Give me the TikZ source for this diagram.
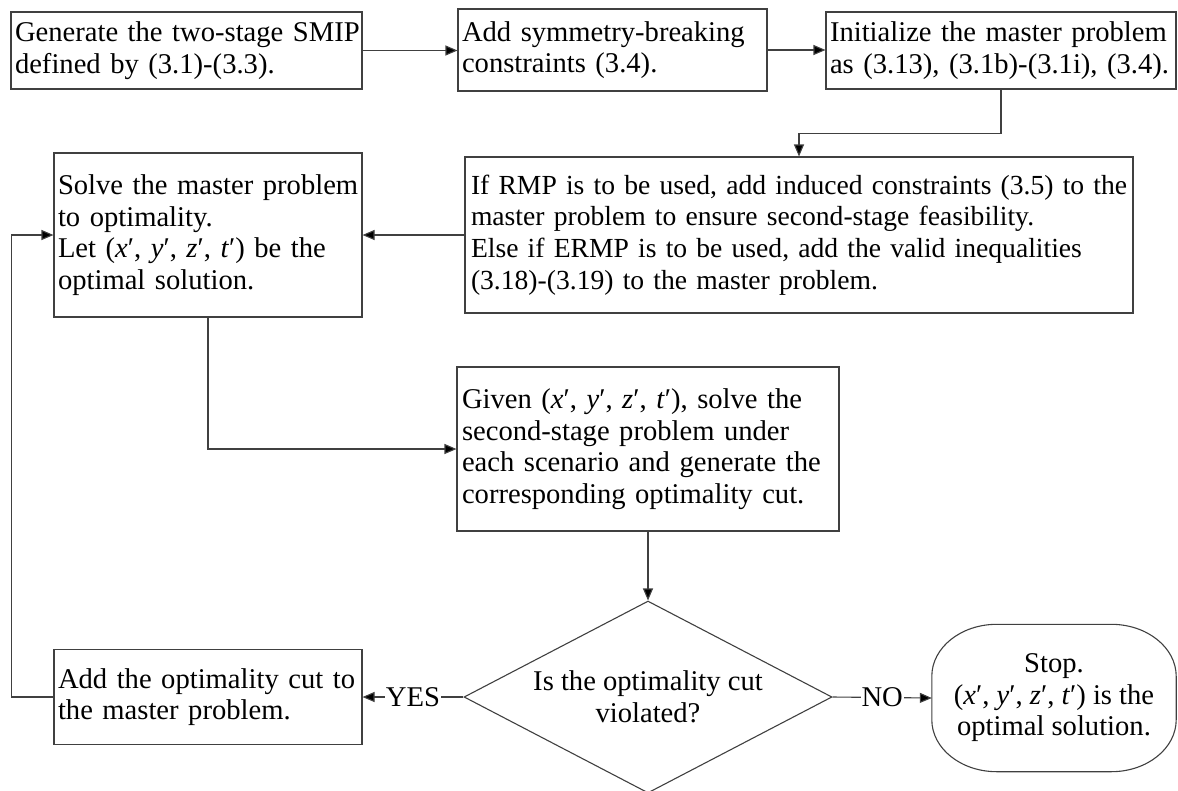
\documentclass[tikz,border=0pt]{standalone}
\usepackage{fontspec}
\setmainfont{Liberation Serif}
\usetikzlibrary{arrows.meta,shapes.geometric}
\newcommand{\Ln}[1]{\mbox{#1}}
\newcommand{\xyzt}{(\textit{x}′, \textit{y}′, \textit{z}′, \textit{t}′)}
\begin{document}
\begin{tikzpicture}[x=1pt,y=-1pt,
  every node/.style={font=\fontsize{28.6}{31.5}\selectfont},
  box/.style={draw=black!75,line width=1.1pt,rectangle,inner xsep=4pt,inner ysep=0pt,align=left,anchor=center},
  conn/.style={draw=black!75,line width=1.1pt},
  arr/.style={conn,-{Triangle[length=12pt,width=10pt,fill=black]}},
  lbl/.style={fill=white,inner sep=1pt}]
\useasboundingbox (0,0) rectangle (1178,790);
\node[box,minimum width=351,minimum height=77,text width=343] (b1) at (186.5,50.5)
  {\Ln{Generate the two-stage SMIP}\\\Ln{defined by (3.1)-(3.3).}};
\node[box,minimum width=309,minimum height=82,text width=301] (b2) at (612.5,50)
  {\Ln{Add symmetry-breaking}\\\Ln{constraints (3.4).}};
\node[box,minimum width=350,minimum height=77,text width=342] (b3) at (1001,50.5)
  {\Ln{Initialize the master problem}\\\Ln{as (3.13), (3.1b)-(3.1i), (3.4).}};
\node[box,minimum width=668,minimum height=156,text width=656,inner xsep=6pt,font=\fontsize{27.6}{31.6}\selectfont] (b4) at (799,235)
  {\Ln{If RMP is to be used, add induced constraints (3.5) to the}\\\Ln{master problem to ensure second-stage feasibility.}\\\Ln{Else if ERMP is to be used, add the valid inequalities}\\\Ln{(3.18)-(3.19) to the master problem.}};
\node[box,minimum width=308,minimum height=164,text width=300] (b5) at (208,235)
  {\Ln{Solve the master problem}\\\Ln{to optimality.}\\\Ln{Let \xyzt{} be the}\\\Ln{optimal solution.}};
\node[box,minimum width=382,minimum height=164,text width=372,inner xsep=5pt] (b6) at (648,449)
  {\Ln{Given \xyzt, solve the}\\\Ln{second-stage problem under}\\\Ln{each scenario and generate the}\\\Ln{corresponding optimality cut.}};
\node[draw=black!75,line width=1.1pt,diamond,aspect=1.917,minimum width=368,minimum height=192,inner sep=0pt,align=center] (d) at (648,697)
  {Is the optimality cut\\violated?};
\node[box,minimum width=308,minimum height=95,text width=300] (b7) at (208,697)
  {\Ln{Add the optimality cut to}\\\Ln{the master problem.}};
\node[rectangle,minimum width=244,minimum height=147,inner sep=0pt,align=center] (stop) at (1054,698)
  {Stop.\\\xyzt{} is the\\optimal solution.};
\draw[conn] ([xshift=65pt]stop.north west) -- ([xshift=-65pt]stop.north east)
  arc[start angle=-90,end angle=0,x radius=65,y radius=52]
  -- ([yshift=52pt]stop.south east)
  arc[start angle=0,end angle=90,x radius=65,y radius=52]
  -- ([xshift=65pt]stop.south west)
  arc[start angle=90,end angle=180,x radius=65,y radius=52]
  -- ([yshift=-52pt]stop.north west)
  arc[start angle=180,end angle=270,x radius=65,y radius=52] -- cycle;
\draw[arr] (b1.east) -- (b1.east -| b2.west);
\draw[arr] (b2.east) -- (b2.east -| b3.west);
\draw[arr] (b3.south) -- ++(0,44) -| (b4.north);
\draw[arr] (b4.west) -- (b5.east);
\draw[arr] (b5.south) |- (b6.west);
\draw[arr] (b6.south) -- (d.north);
\draw[arr] (d.west) -- node[lbl] {YES} (b7.east);
\draw[arr] (d.east) -- node[lbl] {NO} (stop.west);
\draw[arr] (b7.west) -- ++(-42,0) |- (b5.west);
\end{tikzpicture}
\end{document}
